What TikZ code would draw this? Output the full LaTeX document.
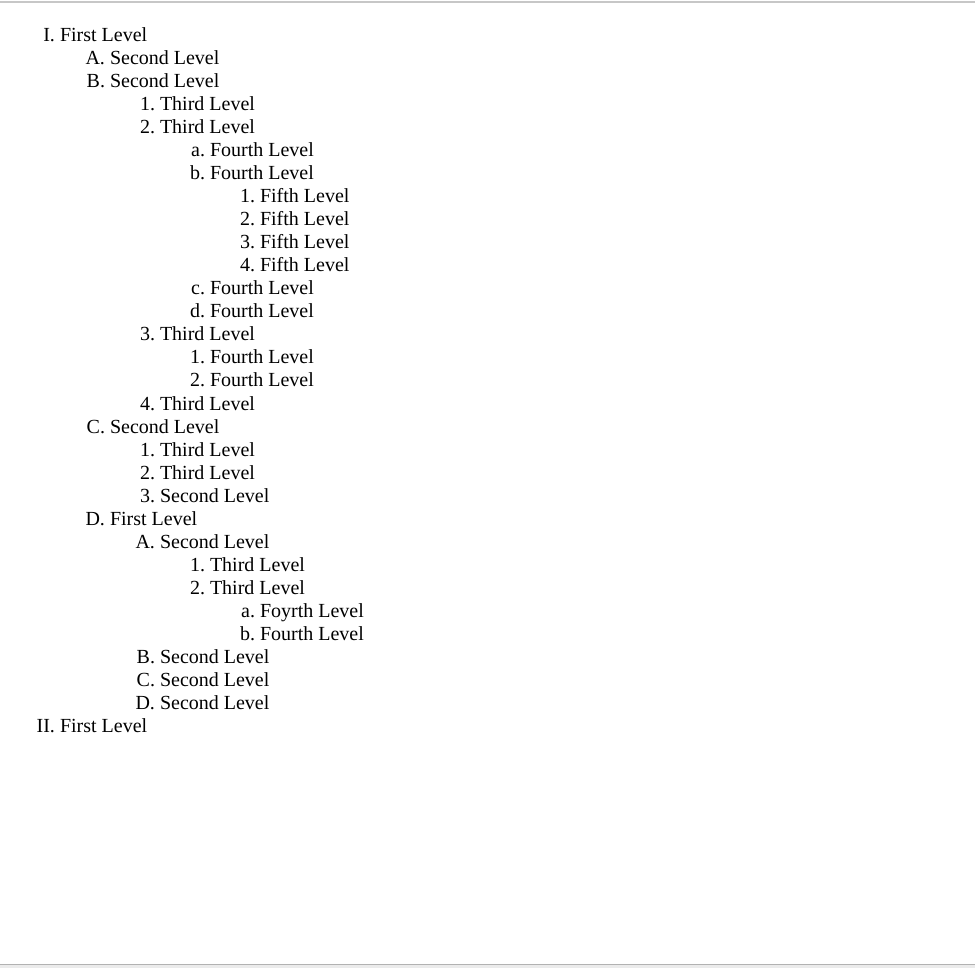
\documentclass[tikz,border=0pt]{standalone}
\usepackage{fontspec}
\setmainfont{Liberation Serif}
\begin{document}
\begin{tikzpicture}[x=1pt,y=-1pt,
  item/.style={anchor=base west,inner sep=0pt,outer sep=0pt,font=\fontsize{20}{23}\selectfont},
  marker/.style={anchor=base east,inner sep=0pt,outer sep=0pt,font=\fontsize{20}{23}\selectfont}]
\useasboundingbox (0,0) rectangle (975,968);
\fill[white] (0,0) rectangle (975,968);
\fill[black!22] (0,1.5) rectangle (975,3);
\fill[black!8] (0,964.5) rectangle (975,968);
\fill[black!30] (0,963.5) rectangle (975,965);
\foreach \m/\t/\l [count=\i from 0] in {
  I./First Level/1,
  A./Second Level/2,
  B./Second Level/2,
  1./Third Level/3,
  2./Third Level/3,
  a./Fourth Level/4,
  b./Fourth Level/4,
  1./Fifth Level/5,
  2./Fifth Level/5,
  3./Fifth Level/5,
  4./Fifth Level/5,
  c./Fourth Level/4,
  d./Fourth Level/4,
  3./Third Level/3,
  1./Fourth Level/4,
  2./Fourth Level/4,
  4./Third Level/3,
  C./Second Level/2,
  1./Third Level/3,
  2./Third Level/3,
  3./Second Level/3,
  D./First Level/2,
  A./Second Level/3,
  1./Third Level/4,
  2./Third Level/4,
  a./Foyrth Level/5,
  b./Fourth Level/5,
  B./Second Level/3,
  C./Second Level/3,
  D./Second Level/3,
  II./First Level/1}
{
  \pgfmathsetmacro{\xx}{10+50*\l}
  \pgfmathsetmacro{\yy}{42+23*\i}
  \node[item] (t\i) at (\xx,\yy) {\t};
  \node[marker] (m\i) at (\xx-5,\yy) {\m};
}
\end{tikzpicture}
\end{document}
